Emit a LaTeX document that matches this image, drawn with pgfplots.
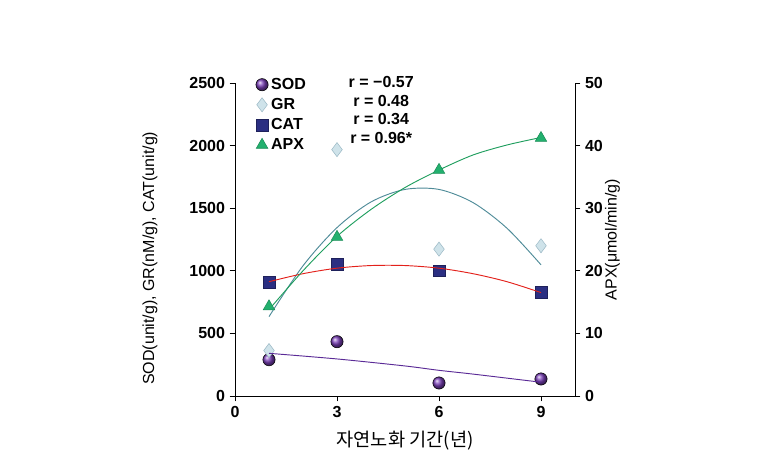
\documentclass[border=0pt]{standalone}
\usepackage{fontspec}
\setmainfont{Liberation Sans}
\newfontfamily\kr{Noto Sans CJK KR}
\usepackage{pgfplots}
\pgfplotsset{compat=1.18}
\definecolor{sodc}{HTML}{7A3FB8}
\definecolor{sodl}{HTML}{5A2A96}
\definecolor{grc}{HTML}{CFE3EA}
\definecolor{grd}{HTML}{9DBAC6}
\definecolor{grl}{HTML}{4E8B98}
\definecolor{catc}{HTML}{2B2F82}
\definecolor{catl}{HTML}{E3211B}
\definecolor{apxc}{HTML}{22B06E}
\definecolor{apxl}{HTML}{1F9E5E}

% measured values
\pgfplotstableread{
x y
1 290
3 434
6 104
9 136
}\sod
\pgfplotstableread{
x y
1 363
3 1968
6 1173
9 1200
}\gr
\pgfplotstableread{
x y
1 907
3 1051
6 1000
9 827
}\cat
\pgfplotstableread{
x y
1 14.3
3 25.4
6 36.1
9 41.2
}\apx
% trend lines
\pgfplotstableread{
x y
1 341
3 296
5 240
6 205
7 175
9 110
}\sodt
\pgfplotstableread{
x y
1 634
2 1040
3 1345
4 1550
5 1650
6 1650
7 1545
8 1340
9 1048
}\grt
\pgfplotstableread{
x y
1 913
2 977
3 1021
4 1042
5 1042
6 1021
7 977
8 913
9 826
}\catt
\pgfplotstableread{
x y
1 13.8
2 20.0
3 25.5
4 29.8
5 33.3
6 36.1
7 38.5
8 40.1
9 41.3
}\apxt

\begin{document}
\begin{tikzpicture}
\useasboundingbox (-176.25pt,-54.75pt) rectangle (394.5pt,297pt);
\pgfplotsset{
  every axis/.append style={
    width=255pt, height=234.75pt, scale only axis,
    xmin=0, xmax=10,
    tick align=outside,
    major tick length=4pt,
    tick style={black, line width=0.6pt},
    axis line style={black, line width=0.6pt},
    tick label style={font=\fontsize{12}{14}\selectfont\bfseries},
    label style={font=\fontsize{12}{14}\selectfont},
    /pgf/number format/assume math mode=true,
    scaled ticks=false,
  }
}
\begin{axis}[
    clip mode=individual,
    axis y line*=left, axis x line*=bottom,
    ymin=0, ymax=2500,
    ytick={0,500,...,2500},
    xtick={0,3,6,9},
    yticklabel style={/pgf/number format/1000 sep={}},
    ylabel={SOD(unit/g), GR(nM/g), CAT(unit/g)},
    ylabel style={at={(axis description cs:-0.25,0.44)}, anchor=center},
    xlabel={\kr\fontsize{14}{16}\selectfont 자연노화 기간(년)},
    xlabel style={at={(axis description cs:0.5,-0.144)}, anchor=center},
    legend style={at={(0.06,1.025)}, anchor=north west, draw=none, fill=none,
      font=\fontsize{12}{14}\selectfont\bfseries, row sep=1.2pt,
      inner sep=0pt},
    legend cell align=left,
    legend image code/.code={\draw[#1] plot coordinates {(0.12cm,0cm)};},
]
\addplot[only marks, mark=ball, mark size=4.6pt, ball color=sodc] table {\sod};
\addlegendentry{SOD}
\addplot[only marks, mark=diamond*, mark size=5.3pt, fill=grc, draw=grd] table {\gr};
\addlegendentry{GR}
\addplot[only marks, mark=square*, mark size=4.4pt, fill=catc, draw=catc!70!black] table {\cat};
\addlegendentry{CAT}
\addlegendimage{only marks, mark=triangle*, mark size=5pt, fill=apxc, draw=apxc!80!black}
\addlegendentry{APX}
\addplot[sodl, line width=0.7pt, smooth, forget plot] table {\sodt};
\addplot[grl, line width=0.7pt, smooth, forget plot] table {\grt};
\addplot[catl, line width=0.7pt, smooth, forget plot] table {\catt};
\node[font=\fontsize{12}{13.9}\selectfont\bfseries, align=center, anchor=north]
  at (axis description cs:0.43,1.035)
  {r = −0.57\\r = 0.48\\r = 0.34\\r = 0.96*};
\end{axis}
\begin{axis}[
    axis y line*=right, axis x line=none,
    ymin=0, ymax=50,
    ytick={0,10,...,50},
    ylabel={APX(μmol/min/g)},
    ylabel style={at={(axis description cs:1.11,0.5)}, anchor=center, rotate=0},
]
\addplot[apxl, line width=0.7pt, smooth] table {\apxt};
\addplot[only marks, mark=triangle*, mark size=5pt, fill=apxc, draw=apxc!80!black] table {\apx};
\end{axis}
\end{tikzpicture}
\end{document}
